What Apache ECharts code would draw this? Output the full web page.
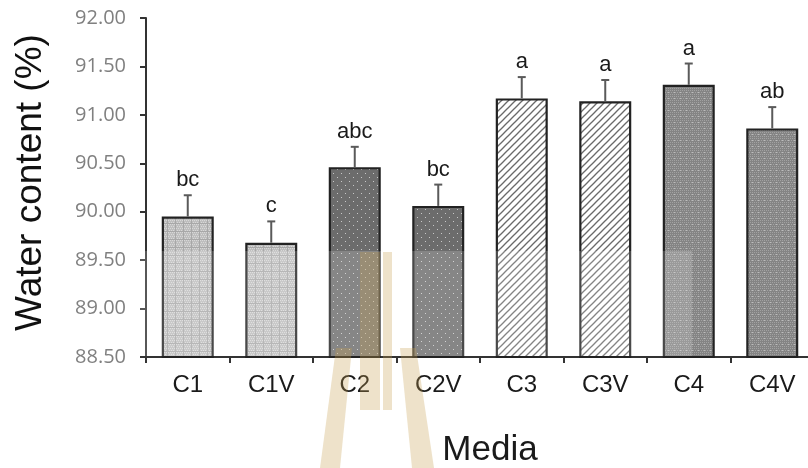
<!DOCTYPE html>
<html>
<head>
<meta charset="utf-8">
<script src="https://cdn.jsdelivr.net/npm/echarts@6/dist/echarts.min.js"></script>
<style>
  html, body { margin: 0; padding: 0; background: #fff; }
  #chart { width: 808px; height: 468px; }
</style>
</head>
<body>
<div id="chart"></div>
<script>
// Water content of each medium, mean ± SE with significance letters
const categories = ['C1', 'C1V', 'C2', 'C2V', 'C3', 'C3V', 'C4', 'C4V'];
const means = [89.95, 89.68, 90.46, 90.06, 91.17, 91.14, 91.31, 90.86];
const errors = [0.22, 0.22, 0.21, 0.22, 0.22, 0.22, 0.22, 0.22];
const letters = ['bc', 'c', 'abc', 'bc', 'a', 'a', 'a', 'ab'];
const yTicks = [88.5, 92.0, 0.5]; // min, max, step

// --- fill patterns ---------------------------------------------------------
function makeCanvas(w, h, draw) {
  const c = document.createElement('canvas');
  c.width = w; c.height = h;
  draw(c.getContext('2d'));
  return c;
}
// light grey fine grid
const patLight = makeCanvas(8, 8, ctx => {
  ctx.fillStyle = '#bebebe'; ctx.fillRect(0, 0, 8, 8);
  ctx.fillStyle = '#d8d8d8';
  for (let y = 0; y < 8; y += 2) for (let x = (y % 4) / 2; x < 8; x += 2) ctx.fillRect(x, y, 1, 1);
  ctx.fillStyle = '#a8a8a8';
  ctx.fillRect(0, 7, 8, 1); ctx.fillRect(7, 0, 1, 8);
});
// dark grey with white dots
const patDots = makeCanvas(8, 8, ctx => {
  ctx.fillStyle = '#6c6c6c'; ctx.fillRect(0, 0, 8, 8);
  ctx.fillStyle = '#c8c8c8';
  ctx.fillRect(1, 1, 1, 1); ctx.fillRect(5, 5, 1, 1);
});
// diagonal hatch
const patHatch = makeCanvas(7, 7, ctx => {
  ctx.fillStyle = '#ffffff'; ctx.fillRect(0, 0, 7, 7);
  ctx.strokeStyle = '#6a6a6a'; ctx.lineWidth = 1.3;
  for (let k = -7; k <= 7; k += 7) {
    ctx.beginPath(); ctx.moveTo(k - 1, 8); ctx.lineTo(k + 8, -1); ctx.stroke();
  }
});
// medium grey fine check
const patCheck = makeCanvas(6, 6, ctx => {
  ctx.fillStyle = '#848484'; ctx.fillRect(0, 0, 6, 6);
  ctx.fillStyle = '#a2a2a2';
  for (let y = 0; y < 6; y += 2) for (let x = (y % 4) / 2; x < 6; x += 2) ctx.fillRect(x, y, 1, 1);
  ctx.fillStyle = '#bcbcbc';
  ctx.fillRect(2, 2, 1, 1);
});
const fills = [patLight, patLight, patDots, patDots, patHatch, patHatch, patCheck, patCheck];

const barData = means.map((v, i) => ({
  value: v,
  itemStyle: { color: { image: fills[i], repeat: 'repeat' } }
}));

const errData = means.map((v, i) => [i, v, v + errors[i], letters[i]]);

const chart = echarts.init(document.getElementById('chart'), null, { renderer: 'canvas' });

const gold = 'rgba(200,160,80,0.30)';

chart.setOption({
  animation: false,
  backgroundColor: '#ffffff',
  grid: { left: 146, right: -6, top: 18, bottom: 111, containLabel: false, outerBoundsMode: 'none' },
  xAxis: {
    type: 'category',
    data: categories,
    name: 'Media',
    nameLocation: 'middle',
    nameGap: 76,
    nameTextStyle: { fontFamily: 'Liberation Sans', fontSize: 35, color: '#1a1a1a', padding: [0, 0, 0, 20] },
    axisLine: { lineStyle: { color: '#333', width: 2 } },
    axisTick: { show: true, length: 6, lineStyle: { color: '#333', width: 2 } },
    axisLabel: { fontFamily: 'Liberation Sans', fontSize: 24, color: '#1a1a1a', margin: 16 }
  },
  yAxis: {
    type: 'value',
    min: yTicks[0],
    max: yTicks[1],
    interval: yTicks[2],
    name: 'Water content (%)',
    nameLocation: 'middle',
    nameGap: 97,
    nameTextStyle: { fontFamily: 'Liberation Sans', fontSize: 37, color: '#111', padding: [0, 0, 0, 10] },
    splitLine: { show: false },
    axisLine: { show: true, lineStyle: { color: '#333', width: 2 } },
    axisTick: { show: true, length: 6, lineStyle: { color: '#333', width: 2 } },
    axisLabel: {
      fontFamily: 'Open Sans', fontSize: 20, color: '#808080', margin: 20,
      formatter: v => v.toFixed(2)
    }
  },
  series: [
    {
      type: 'bar',
      data: barData,
      barWidth: 52,
      itemStyle: { borderColor: '#222', borderWidth: 2.2 },
      z: 2
    },
    {
      type: 'custom',
      data: errData,
      z: 3,
      renderItem: (params, api) => {
        const x = api.value(0);
        const top = api.coord([x, api.value(2)]);
        const base = api.coord([x, api.value(1)]);
        const stroke = { stroke: '#5a5a5a', lineWidth: 2 };
        return {
          type: 'group',
          children: [
            { type: 'line', shape: { x1: top[0], y1: base[1], x2: top[0], y2: top[1] }, style: stroke },
            { type: 'line', shape: { x1: top[0] - 4, y1: top[1], x2: top[0] + 4, y2: top[1] }, style: stroke },
            {
              type: 'text',
              style: {
                text: api.value(3), x: top[0], y: top[1] - 15,
                textAlign: 'center', textVerticalAlign: 'middle',
                font: '22px "Liberation Sans"', fill: '#1a1a1a'
              }
            }
          ]
        };
      }
    }
  ],
  graphic: [
    // faint light band over the lower part of the bars
    {
      type: 'rect', z: 100, silent: true,
      shape: { x: 140, y: 251, width: 552, height: 105 },
      style: { fill: 'rgba(255,255,255,0.18)' }
    },
    // faint golden emblem behind the x axis
    { type: 'polygon', z: 101, silent: true, shape: { points: [[360, 252], [380, 252], [380, 410], [360, 410]] }, style: { fill: gold } },
    { type: 'polygon', z: 101, silent: true, shape: { points: [[383, 252], [392, 252], [392, 410], [383, 410]] }, style: { fill: gold } },
    { type: 'polygon', z: 101, silent: true, shape: { points: [[336, 348], [352, 348], [340, 468], [320, 468]] }, style: { fill: gold } },
    { type: 'polygon', z: 101, silent: true, shape: { points: [[400, 348], [416, 348], [434, 468], [412, 468]] }, style: { fill: gold } }
  ]
});
</script>
</body>
</html>
